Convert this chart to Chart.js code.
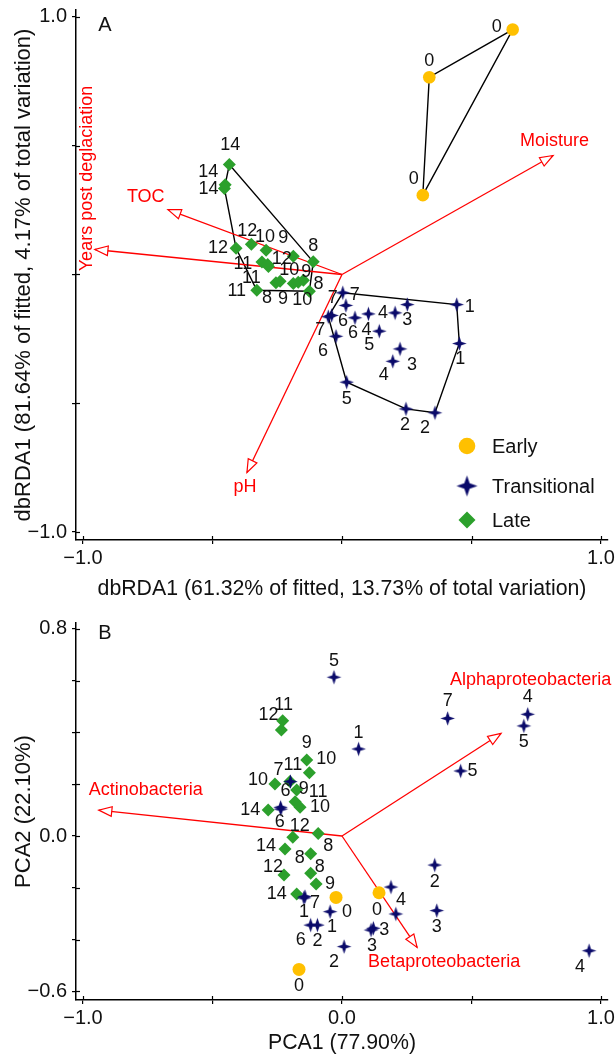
<!DOCTYPE html>
<html><head><meta charset="utf-8">
<script src="https://cdn.jsdelivr.net/npm/chart.js@4.4.1/dist/chart.umd.min.js"></script>
<style>
html,body{margin:0;padding:0;background:#fff;}
#wrap{position:relative;width:616px;height:1056px;overflow:hidden;}
.box{position:absolute;left:0;width:616px;}
</style></head><body>
<div id="wrap">
<div class="box" style="top:0;height:605px"><canvas id="cA" width="616" height="605"></canvas></div>
<div class="box" style="top:605px;height:451px"><canvas id="cB" width="616" height="451"></canvas></div>
</div>
<script>
// ---------------- DATA ----------------
const groupNames = ['Early', 'Transitional', 'Late'];

// Panel A: dbRDA
const aEarlyX = [0.659, 0.337, 0.312];
const aEarlyY = [0.951, 0.766, 0.308];
const aEarlyLbl = ['0', '0', '0'];

const aTransX = [0.003, 0.015, -0.053, -0.040, -0.023, 0.050, 0.102, 0.144, 0.205, 0.252, 0.443, 0.453, 0.224, 0.196, 0.018, 0.247, 0.359];
const aTransY = [-0.071, -0.120, -0.164, -0.159, -0.240, -0.168, -0.153, -0.220, -0.149, -0.117, -0.117, -0.268, -0.289, -0.337, -0.418, -0.522, -0.537];
const aTransLbl = ['7', '6', '7', '7', '6', '6', '4', '5', '4', '3', '1', '1', '3', '4', '5', '2', '2'];

const aLateX = [-0.435, -0.451, -0.454, -0.409, -0.350, -0.293, -0.188, -0.309, -0.287, -0.284, -0.111, -0.329, -0.255, -0.239, -0.188, -0.169, -0.149, -0.126];
const aLateY = [0.427, 0.348, 0.334, 0.102, 0.117, 0.094, 0.071, 0.048, 0.039, 0.031, 0.049, -0.061, -0.032, -0.026, -0.035, -0.030, -0.022, -0.065];
const aLateLbl = ['14', '14', '14', '12', '12', '10', '9', '11', '12', '11', '8', '11', '8', '9', '10', '9', '8', '10'];

const aVecNames = ['Moisture', 'TOC', 'Years post deglaciation', 'pH'];
const aVecX = [0.815, -0.672, -0.954, -0.367];
const aVecY = [0.462, 0.252, 0.097, -0.769];

const aXTicks = [-1, -0.5, 0, 0.5, 1];
const aXTickText = ['\u22121.0', '', '', '', '1.0'];
const aYTicks = [-1, -0.5, 0, 0.5, 1];
const aYTickText = ['\u22121.0', '', '', '', '1.0'];
const aXTitle = 'dbRDA1 (61.32% of fitted, 13.73% of total variation)';
const aYTitle = 'dbRDA1 (81.64% of fitted, 4.17% of total variation)';

// Panel B: PCA
const bEarlyX = [-0.023, 0.143, -0.166];
const bEarlyY = [-0.237, -0.219, -0.515];
const bEarlyLbl = ['0', '0', '0'];

const bTransX = [-0.031, 0.064, 0.408, 0.717, 0.702, 0.458, -0.199, -0.237, -0.236, -0.143, -0.147, -0.046, -0.121, -0.095, 0.008, 0.189, 0.208, 0.121, 0.112, 0.358, 0.366, 0.954];
const bTransY = [0.613, 0.336, 0.454, 0.470, 0.425, 0.251, 0.210, 0.111, 0.104, -0.234, -0.239, -0.292, -0.344, -0.344, -0.427, -0.197, -0.301, -0.356, -0.363, -0.112, -0.288, -0.443];
const bTransLbl = ['5', '1', '7', '4', '5', '5', '7', '6', '6', '7', '1', '1', '6', '2', '2', '4', '', '3', '3', '2', '3', '4'];

const bLateX = [-0.229, -0.234, -0.136, -0.126, -0.259, -0.175, -0.181, -0.162, -0.285, -0.190, -0.092, -0.220, -0.121, -0.224, -0.121, -0.100, -0.175, -0.201];
const bLateY = [0.445, 0.409, 0.293, 0.244, 0.201, 0.178, 0.132, 0.111, 0.100, -0.005, 0.010, -0.050, -0.069, -0.151, -0.144, -0.185, -0.224, 0.210];
const bLateLbl = ['11', '12', '9', '10', '10', '9', '11', '10', '14', '12', '8', '14', '8', '12', '8', '9', '14', '11'];

const bVecNames = ['Actinobacteria', 'Alphaproteobacteria', 'Betaproteobacteria'];
const bVecX = [-0.939, 0.614, 0.290];
const bVecY = [0.100, 0.396, -0.430];

const bXTicks = [-1, -0.5, 0, 0.5, 1];
const bXTickText = ['\u22121.0', '', '0.0', '', '1.0'];
const bYTicks = [-0.6, -0.4, -0.2, 0, 0.2, 0.4, 0.6, 0.8];
const bYTickText = ['\u22120.6', '', '', '0.0', '', '', '', '0.8'];
const bXTitle = 'PCA1 (77.90%)';
const bYTitle = 'PCA2 (22.10%)';

// ---------------- STYLE (label placement in px) ----------------
const aEarlyOff = [[-16, -3], [0, -16], [-9, -16]];
const aTransOff = [[12, 2], [-3, 16], [-8, 13], [1, -17], [-13, 15], [-2, 15], [-2, 16], [-10, 14], [-12, 0], [0, 15], [13, 2], [1, 16], [12, 16], [-9, 14], [0, 17], [-1, 16], [-10, 15]];
const aLateOff = [[1, -19], [-17, -13], [-16, 1], [-18, 0], [-4, -13], [-1, -13], [-10, -18], [-19, 2], [14, -5], [-17, 12], [0, -16], [-20, 1], [-9, 15], [3, 18], [-4, -13], [8, -10], [15, 4], [-7, 9]];
const aVecLab = [{dx: -33, dy: -14, align: 'left'}, {dx: -41, dy: -13, align: 'left'}, {dx: -8, dy: -71, align: 'center', rot: true}, {dx: -2, dy: 15, align: 'center'}];

const bEarlyOff = [[11, 15], [-2, 17], [0, 17]];
const bTransOff = [[0, -16], [0, -16], [0, -17], [0, -17], [0, 16], [12, 0], [-12, -12], [5, -16], [-1, 13], [10, 6], [0, 14], [2, 15], [-10, 15], [0, 16], [-10, 15], [10, 13], [0, 0], [11, 2], [1, 16], [0, 17], [0, 16], [-9, 16]];
const bLateOff = [[1, -16], [-13, -15], [0, -17], [17, -14], [-17, -4], [7, -1], [23, -10], [20, 0], [-18, 0], [7, -11], [10, 13], [-19, -3], [-11, 4], [-11, -8], [9, -6], [14, 0], [-20, 0], [3, -17]];
const bVecLab = [{dx: -10, dy: -20, align: 'left'}, {dx: -51, dy: -53, align: 'left'}, {dx: -49, dy: 15, align: 'left'}];

const OR = '#FFC000', NV = '#0A0A6A', GR = '#2CA02C', RED = '#FF0000', INK = '#111111';
const FONT = "'Liberation Sans', Arial, Helvetica, sans-serif";

function makeStar(R, color) {
  const s = Math.ceil(2 * R + 2);
  const c = document.createElement('canvas'); c.width = s; c.height = s;
  const g = c.getContext('2d');
  const cx = s / 2, cy = s / 2, r = R * 0.36;
  g.beginPath();
  for (let k = 0; k < 8; k++) {
    const ang = -Math.PI / 2 + k * Math.PI / 4;
    const rad = k % 2 === 0 ? R : r;
    const px = cx + rad * Math.cos(ang), py = cy + rad * Math.sin(ang);
    if (k === 0) g.moveTo(px, py); else g.lineTo(px, py);
  }
  g.closePath(); g.fillStyle = color; g.fill();
  return c;
}
const starImg = makeStar(7.3, NV);
const starLeg = makeStar(10.5, NV);

function hull(xs, ys) {
  const p = xs.map((x, i) => ({x, y: ys[i]})).sort((a, b) => a.x - b.x || a.y - b.y);
  const cr = (o, a, b) => (a.x - o.x) * (b.y - o.y) - (a.y - o.y) * (b.x - o.x);
  const lo = [], up = [];
  for (const q of p) { while (lo.length >= 2 && cr(lo[lo.length - 2], lo[lo.length - 1], q) <= 0) lo.pop(); lo.push(q); }
  for (let i = p.length - 1; i >= 0; i--) { const q = p[i]; while (up.length >= 2 && cr(up[up.length - 2], up[up.length - 1], q) <= 0) up.pop(); up.push(q); }
  up.pop(); lo.pop();
  const h = lo.concat(up); h.push(h[0]); return h;
}

function ptsDs(label, xs, ys, lbls, offs, style, color, radius, order) {
  return {label, data: xs.map((x, i) => ({x, y: ys[i]})), pointStyle: style, pointRadius: radius, pointHoverRadius: radius,
    backgroundColor: color, borderColor: color, borderWidth: 0, showLine: false, order, ptLbl: lbls, ptOff: offs};
}
function vecDs(names, xs, ys, labs) {
  return names.map((n, i) => ({label: n, data: [{x: 0, y: 0}, {x: xs[i], y: ys[i]}], showLine: true, borderColor: RED, borderWidth: 1.3,
    pointRadius: 0, pointHoverRadius: 0, fill: false, order: 5, vec: labs[i]}));
}
function hullDs(xs, ys) {
  return {label: 'hull', data: hull(xs, ys), showLine: true, borderColor: '#000', borderWidth: 1.4, pointRadius: 0, pointHoverRadius: 0, fill: false, order: 6, tension: 0};
}

const annot = {
  id: 'annot',
  afterDatasetDraw(chart, args) {
    const ds = chart.data.datasets[args.index];
    if (!ds.vec) return;
    const ctx = chart.ctx, m = args.meta, p0 = m.data[0], p1 = m.data[1];
    const ang = Math.atan2(p1.y - p0.y, p1.x - p0.x);
    ctx.save(); ctx.translate(p1.x, p1.y); ctx.rotate(ang);
    ctx.beginPath(); ctx.moveTo(0, 0); ctx.lineTo(-13, -4.8); ctx.lineTo(-13, 4.8); ctx.closePath();
    ctx.fillStyle = '#fff'; ctx.fill(); ctx.strokeStyle = RED; ctx.lineWidth = 1.2; ctx.stroke();
    ctx.restore();
  },
  afterDatasetsDraw(chart) {
    const ctx = chart.ctx;
    ctx.save();
    chart.data.datasets.forEach((ds, i) => {
      const m = chart.getDatasetMeta(i);
      if (ds.vec) {
        const p1 = m.data[1], v = ds.vec;
        ctx.fillStyle = RED; ctx.font = '18px ' + FONT; ctx.textBaseline = 'middle';
        ctx.textAlign = v.align;
        if (v.rot) {
          ctx.save(); ctx.translate(p1.x + v.dx, p1.y + v.dy); ctx.rotate(-Math.PI / 2);
          ctx.fillText(ds.label, 0, 0); ctx.restore();
        } else ctx.fillText(ds.label, p1.x + v.dx, p1.y + v.dy);
      }
      if (ds.ptLbl) {
        ctx.fillStyle = INK; ctx.font = '18px ' + FONT; ctx.textBaseline = 'middle'; ctx.textAlign = 'center';
        m.data.forEach((el, k) => {
          const t = ds.ptLbl[k]; if (!t) return;
          const o = ds.ptOff[k];
          ctx.fillText(t, el.x + o[0], el.y + o[1]);
        });
      }
    });
    ctx.restore();
  },
  afterDraw(chart) {
    const ctx = chart.ctx, ca = chart.chartArea, o = chart.options.plugins.annot;
    ctx.save();
    // inner halves of the crossing tick marks
    ctx.strokeStyle = '#000'; ctx.lineWidth = 1.2;
    const xs = chart.scales.x, ys = chart.scales.y;
    xs.ticks.forEach(t => { const px = Math.round(xs.getPixelForValue(t.value)) + 0.5; ctx.beginPath(); ctx.moveTo(px, ca.bottom); ctx.lineTo(px, ca.bottom - 4); ctx.stroke(); });
    ys.ticks.forEach(t => { const py = Math.round(ys.getPixelForValue(t.value)) + 0.5; ctx.beginPath(); ctx.moveTo(ca.left, py); ctx.lineTo(ca.left + 4, py); ctx.stroke(); });
    // panel letter
    ctx.fillStyle = INK; ctx.font = '20px ' + FONT; ctx.textAlign = 'center'; ctx.textBaseline = 'middle';
    ctx.fillText(o.letter, ca.left + 29, ca.top + o.letterDy);
    // legend
    if (o.legend) {
      const lx = ca.left + 391, rows = [ca.bottom - 94, ca.bottom - 54, ca.bottom - 20];
      ctx.font = '20px ' + FONT; ctx.textAlign = 'left'; ctx.fillStyle = INK;
      rows.forEach((y, k) => {
        if (k === 0) { ctx.beginPath(); ctx.arc(lx, y, 8.3, 0, Math.PI * 2); ctx.fillStyle = OR; ctx.fill(); }
        else if (k === 1) { ctx.drawImage(starLeg, lx - starLeg.width / 2, y - starLeg.height / 2); }
        else { ctx.beginPath(); ctx.moveTo(lx, y - 8.5); ctx.lineTo(lx + 8.5, y); ctx.lineTo(lx, y + 8.5); ctx.lineTo(lx - 8.5, y); ctx.closePath(); ctx.fillStyle = GR; ctx.fill(); }
        ctx.fillStyle = INK; ctx.fillText(groupNames[k], lx + 25, y + 1);
      });
    }
    ctx.restore();
  }
};

function scaleCfg(min, max, vals, text, title, isX, fit, titlePad, tickPad, titleSize) {
  return {
    type: 'linear', min, max,
    afterBuildTicks: s => { s.ticks = vals.map(v => ({value: v})); },
    afterFit: s => {
      if (isX) { s.height = fit; s.paddingLeft = 0; s.paddingRight = 0; }
      else { s.width = fit; s.paddingTop = 0; s.paddingBottom = 0; }
    },
    ticks: {autoSkip: false, maxRotation: 0, minRotation: 0, padding: tickPad, color: INK, font: {family: FONT, size: 20},
      callback: (v, i) => text[i]},
    grid: {display: true, drawOnChartArea: false, drawTicks: true, tickLength: 4, color: '#000', lineWidth: 1.2},
    border: {display: true, color: '#000', width: 1.5},
    title: {display: true, text: title, color: INK, font: {family: FONT, size: titleSize, lineHeight: 1.2}, padding: titlePad}
  };
}

function build(id, cfg) {
  return new Chart(document.getElementById(id), {
    type: 'scatter',
    data: {datasets: cfg.datasets},
    options: {
      responsive: false, animation: false, devicePixelRatio: 1, events: [],
      layout: {padding: cfg.padding},
      scales: {
        x: scaleCfg(cfg.xMin, cfg.xMax, cfg.xTicks, cfg.xText, cfg.xTitle, true, cfg.xH, {top: 0, bottom: cfg.xTitlePad}, 2, 21.3),
        y: scaleCfg(cfg.yMin, cfg.yMax, cfg.yTicks, cfg.yText, cfg.yTitle, false, 76, {top: 10.5, bottom: 0}, 5, 22)
      },
      plugins: {legend: {display: false}, tooltip: {enabled: false}, annot: cfg.annot}
    },
    plugins: [annot]
  });
}

build('cA', {
  datasets: [
    ptsDs(groupNames[0], aEarlyX, aEarlyY, aEarlyLbl, aEarlyOff, 'circle', OR, 6.3, 1),
    ptsDs(groupNames[1], aTransX, aTransY, aTransLbl, aTransOff, starImg, NV, 7, 2),
    ptsDs(groupNames[2], aLateX, aLateY, aLateLbl, aLateOff, 'rectRot', GR, 6.5, 3),
    ...vecDs(aVecNames, aVecX, aVecY, aVecLab),
    hullDs(aEarlyX, aEarlyY), hullDs(aTransX, aTransY), hullDs(aLateX, aLateY)
  ],
  padding: {top: 10, right: 8, left: 0, bottom: 0},
  xMin: -1.027, xMax: 1.027, yMin: -1.031, yMax: 1.027,
  xTicks: aXTicks, xText: aXTickText, yTicks: aYTicks, yText: aYTickText,
  xTitle: aXTitle, yTitle: aYTitle, xH: 65, xTitlePad: 3,
  annot: {letter: 'A', letterDy: 15, legend: true}
});

build('cB', {
  datasets: [
    ptsDs(groupNames[0], bEarlyX, bEarlyY, bEarlyLbl, bEarlyOff, 'circle', OR, 6.5, 1),
    ptsDs(groupNames[1], bTransX, bTransY, bTransLbl, bTransOff, starImg, NV, 7, 2),
    ptsDs(groupNames[2], bLateX, bLateY, bLateLbl, bLateOff, 'rectRot', GR, 6.5, 3),
    ...vecDs(bVecNames, bVecX, bVecY, bVecLab)
  ],
  padding: {top: 18, right: 8, left: 0, bottom: 0},
  xMin: -1.027, xMax: 1.027, yMin: -0.6332, yMax: 0.8224,
  xTicks: bXTicks, xText: bXTickText, yTicks: bYTicks, yText: bYTickText,
  xTitle: bXTitle, yTitle: bYTitle, xH: 56, xTitlePad: 0,
  annot: {letter: 'B', letterDy: 10.6, legend: false}
});
</script>
</body></html>
